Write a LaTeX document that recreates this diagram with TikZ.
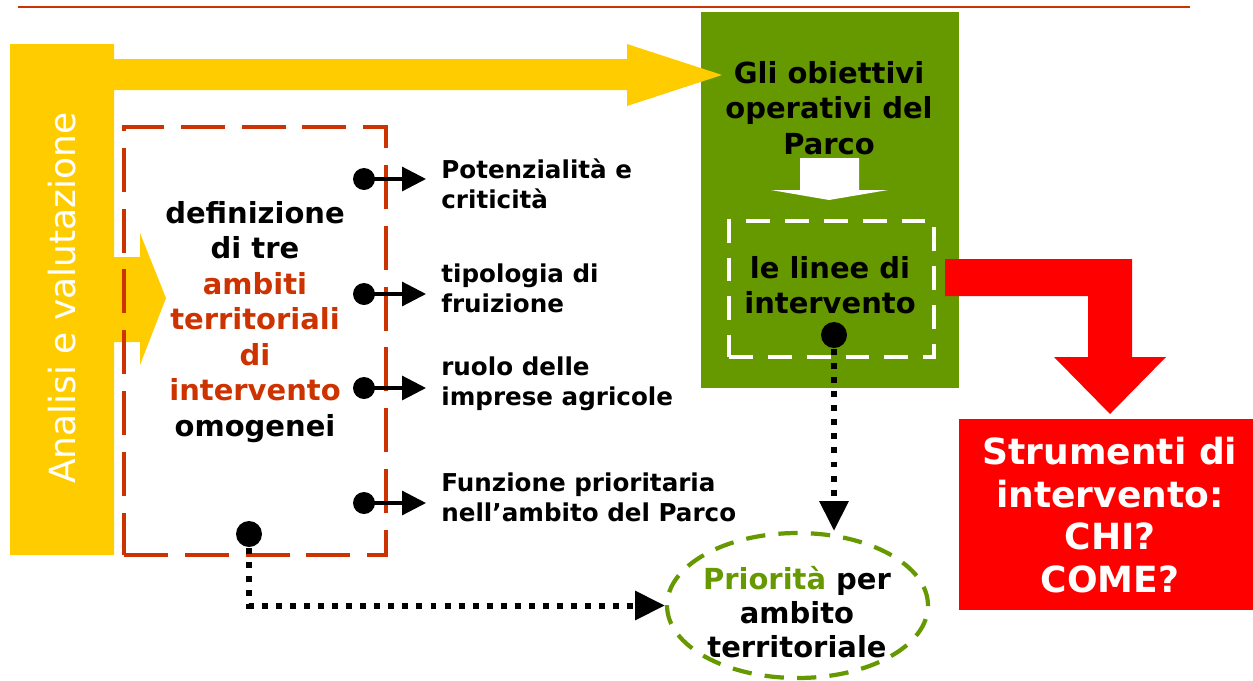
\documentclass[tikz,border=0pt]{standalone}
\usepackage{fontspec}
\setmainfont{DejaVu Sans}
\usetikzlibrary{
    arrows.meta,
    positioning,
    calc,
    shapes.geometric
}
\definecolor{parcoyellow}{RGB}{255, 204, 0}
\definecolor{parcoorange}{RGB}{204, 51, 0}
\definecolor{parcogreen}{RGB}{102, 153, 0}
\definecolor{parcored}{RGB}{255, 0, 0}

\tikzset{
    midtext/.style={font=\fontsize{16.5}{20.2}\selectfont\bfseries, align=center, inner sep=0pt},
    smalltext/.style={font=\fontsize{14}{17}\selectfont\bfseries, align=left, anchor=west, inner sep=0pt},
    bigtext/.style={font=\fontsize{20.5}{24.4}\selectfont\bfseries, align=center, text=white},
    bulletdot/.style={circle, fill=black, inner sep=0pt, minimum size=0.44cm},
    bigdot/.style={circle, fill=black, inner sep=0pt, minimum size=0.52cm},
    bulletarrow/.style={line width=1.8pt, shorten >=0.3cm, -{Triangle[length=13.6pt, width=13.6pt]}},
    dotarrow/.style={line width=3.4pt, dash pattern=on 3.4pt off 4.6pt, -{Triangle[length=17pt, width=16pt]}}
}

\begin{document}
\begin{tikzpicture}[x=0.02cm, y=-0.02cm]
        \useasboundingbox (0,0) rectangle (1253,680);

        % Top rule
        \draw[parcoorange, line width=1.2pt] (18,7) -- (1190,7);

        % Green block (under the yellow arrow tip)
        \node[fill=parcogreen, minimum width=5.16cm, minimum height=7.52cm, inner sep=0pt] (parco) at (830,200) {};

        % Yellow frame with its two arrows
        \fill[parcoyellow] (10,44) -- (114,44) -- (114,59) -- (627,59) -- (627,44) -- (722,75)
            -- (627,106) -- (627,90) -- (114,90) -- (114,257) -- (140,257) -- (140,233)
            -- (166,298) -- (140,365) -- (140,342) -- (114,342) -- (114,555) -- (10,555) -- cycle;
        \node[rotate=90, text=white, font=\fontsize{20.5}{22}\selectfont] (analisi) at (62,298) {Analisi e valutazione};

        % Dashed box of the three ambiti
        \node[draw=parcoorange, line width=2.7pt, dash pattern=on 25pt off 9.6pt,
              minimum width=5.24cm, minimum height=8.56cm, inner sep=0pt] (ambitibox) at (255,341) {};
        \node[midtext] (ambiti) at (255,322) {definizione\\di tre\\
            \textcolor{parcoorange}{ambiti}\\\textcolor{parcoorange}{territoriali}\\
            \textcolor{parcoorange}{di}\\\textcolor{parcoorange}{intervento}\\omogenei};

        % Bullets towards the analysis items
        \foreach \i/\yd/\yt/\txt in {1/179/184/{Potenzialità e\\criticità},
                                     2/294/288/{tipologia di\\fruizione},
                                     3/388/384/{ruolo delle\\imprese agricole},
                                     4/503/497/{Funzione prioritaria\\nell’ambito del Parco}} {
            \node[bulletdot] (dot\i) at (364,\yd) {};
            \node[smalltext] (item\i) at (441,\yt) {\txt};
            \draw[bulletarrow] (dot\i.center) -- (dot\i -| item\i.west);
        }

        % Obiettivi and linee di intervento
        \node[midtext] (obiettivi) at (829,108) {Gli obiettivi\\operativi del\\Parco};
        \fill[white] (800,158) -- (859,158) -- (859,190) -- (888,190) -- (829,200) -- (771,190) -- (800,190) -- cycle;
        \node[draw=white, line width=2.4pt, dash pattern=on 13.6pt off 8.5pt,
              minimum width=4.1cm, minimum height=2.72cm, inner sep=0pt] (lineebox) at (831.5,289) {};
        \node[midtext] (linee) at (830,285) {le linee di\\intervento};
        \node[bigdot] (lineedot) at (834,335) {};

        % Priorita per ambito
        \node[ellipse, draw=parcogreen, line width=2.4pt, dash pattern=on 11pt off 7.5pt,
              minimum width=5.22cm, minimum height=2.9cm, inner sep=0pt] (prioritabox) at (797.5,605.5) {};
        \node[midtext, font=\fontsize{16.5}{19.4}\selectfont\bfseries] (priorita) at (797,612)
            {\textcolor{parcogreen}{Priorità} per\\ambito\\territoriale};

        \node[bigdot] (ambitidot) at (249,534) {};
        \draw[dotarrow] (lineedot.center) -- (lineedot |- prioritabox.north);
        \draw[dotarrow] (ambitidot.center) |- (prioritabox.west);

        % Red arrow and Strumenti box
        \fill[parcored] (945,259) -- (1132,259) -- (1132,357) -- (1166,357) -- (1110,414)
            -- (1054,357) -- (1088,357) -- (1088,296) -- (945,296) -- cycle;
        \node[fill=parcored, minimum width=5.88cm, minimum height=3.82cm, inner sep=0pt] (strumentibox) at (1106,514.5) {};
        \node[bigtext, inner sep=0pt] (strumenti) at (1110,515) {Strumenti di\\intervento:\\CHI?\\COME?};
\end{tikzpicture}
\end{document}
